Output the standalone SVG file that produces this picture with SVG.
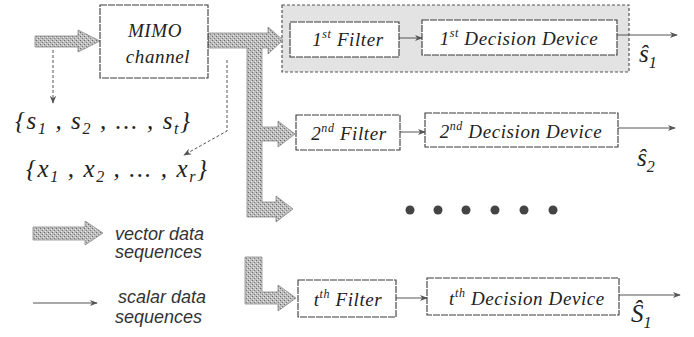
<svg xmlns="http://www.w3.org/2000/svg" width="694" height="337" viewBox="0 0 694 337">
<defs>
<style>
.box{fill:#fff;stroke:#3a3a3a;stroke-width:1.1;stroke-dasharray:7 1}
.grp{fill:#e3e3e3;stroke:#555;stroke-width:1.2;stroke-dasharray:3 2}
.fat{fill:url(#stip);stroke:#8a8a8a;stroke-width:0.8}
.lbl{font-family:"Liberation Serif","DejaVu Serif","Times New Roman",serif;font-style:italic;font-size:19px;fill:#222;letter-spacing:0.6px}
.math{font-family:"Liberation Serif","DejaVu Serif","Times New Roman",serif;font-style:italic;font-size:25px;fill:#222}
.leg{font-family:"Liberation Sans",Arial,sans-serif;font-style:italic;font-size:18px;fill:#333}
.sc{fill:none;stroke:#555;stroke-width:1}
.dash{fill:none;stroke:#555;stroke-width:1;stroke-dasharray:3 2}
.dot{fill:#444}
</style>
<pattern id="stip" width="4" height="4" patternUnits="userSpaceOnUse">
<rect width="4" height="4" fill="#bcbcbc"/>
<rect x="0" y="0" width="1" height="1" fill="#6a6a6a"/>
<rect x="2" y="2" width="1" height="1" fill="#7a7a7a"/>
<rect x="3" y="1" width="1" height="1" fill="#e6e6e6"/>
<rect x="1" y="3" width="1" height="1" fill="#e6e6e6"/>
</pattern>
<marker id="ah" viewBox="0 0 10 10" refX="9" refY="5" markerWidth="8" markerHeight="8" orient="auto" markerUnits="userSpaceOnUse">
<path d="M0,1 L10,5 L0,9 L3,5 Z" fill="#555"/>
</marker>
</defs>

<g id="group-box">
<rect class="grp" x="282" y="5" width="347" height="67"/>
</g>

<g id="connectors">
<path class="fat" d="M35,36 L78,36 L78,30 L100,41 L78,52 L78,47 L35,47 Z"/>
<path class="fat" d="M208,33 L268,33 L268,27 L283,40 L268,54 L268,48 L262,48 L262,127 L278,127 L278,121 L295,134 L278,147 L278,141 L262,141 L262,202 L276,202 L276,196 L293,209 L276,222 L276,217 L247,217 L247,48 L208,48 Z"/>
<path class="fat" d="M245,257 L262,257 L262,292 L278,292 L278,285 L296,298 L278,311 L278,304 L245,304 Z"/>
<path class="dash" d="M53,50 L53,103" marker-end="url(#ah)"/>
<path class="dash" d="M227,60 L227,131 L184,155" marker-end="url(#ah)"/>
<path class="sc" d="M399,38 L422,38" marker-end="url(#ah)"/>
<path class="sc" d="M617,35 L677,35" marker-end="url(#ah)"/>
<path class="sc" d="M400,132 L425,132" marker-end="url(#ah)"/>
<path class="sc" d="M618,128 L675,128" marker-end="url(#ah)"/>
<path class="sc" d="M396,298 L427,298" marker-end="url(#ah)"/>
<path class="sc" d="M619,295 L680,295" marker-end="url(#ah)"/>
</g>

<g id="mimo">
<rect class="box" x="100" y="5" width="108" height="73"/>
<text class="lbl" x="155" y="37" text-anchor="middle" font-size="21" letter-spacing="1.5">MIMO</text>
<text class="lbl" x="158" y="63" text-anchor="middle" font-size="21" letter-spacing="1.2">channel</text>
</g>

<g id="filter1">
<rect class="box" x="290" y="22" width="109" height="35"/>
<text class="lbl" x="348" y="46" text-anchor="middle">1<tspan font-size="12" dy="-8">st</tspan><tspan dy="8"> Filter</tspan></text>
</g>
<g id="decision1">
<rect class="box" x="422" y="20" width="195" height="35"/>
<text class="lbl" x="519" y="45" text-anchor="middle">1<tspan font-size="12" dy="-8">st</tspan><tspan dy="8">  Decision Device</tspan></text>
</g>
<g id="out1">
<text class="math" x="639" y="62">ŝ<tspan font-size="16" dy="6">1</tspan></text>
</g>

<g id="filter2">
<rect class="box" x="296" y="115" width="104" height="35"/>
<text class="lbl" x="349" y="140" text-anchor="middle">2<tspan font-size="12" dy="-8">nd</tspan><tspan dy="8"> Filter</tspan></text>
</g>
<g id="decision2">
<rect class="box" x="425" y="113" width="193" height="34"/>
<text class="lbl" x="521" y="138" text-anchor="middle">2<tspan font-size="12" dy="-8">nd</tspan><tspan dy="8"> Decision Device</tspan></text>
</g>
<g id="out2">
<text class="math" x="637" y="166">ŝ<tspan font-size="16" dy="6">2</tspan></text>
</g>

<g id="dots">
<circle class="dot" cx="410" cy="210" r="4.5"/>
<circle class="dot" cx="438" cy="210" r="4.5"/>
<circle class="dot" cx="466" cy="210" r="4.5"/>
<circle class="dot" cx="495" cy="210" r="4.5"/>
<circle class="dot" cx="524" cy="210" r="4.5"/>
<circle class="dot" cx="553" cy="210" r="4.5"/>
</g>

<g id="filtert">
<rect class="box" x="298" y="280" width="98" height="37"/>
<text class="lbl" x="348" y="306" text-anchor="middle">t<tspan font-size="12" dy="-8">th</tspan><tspan dy="8"> Filter</tspan></text>
</g>
<g id="decisiont">
<rect class="box" x="427" y="278" width="192" height="37"/>
<text class="lbl" x="527" y="305" text-anchor="middle">t<tspan font-size="12" dy="-8">th</tspan><tspan dy="8"> Decision Device</tspan></text>
</g>
<g id="outt">
<text class="math" x="631" y="322">Ŝ<tspan font-size="16" dy="6">1</tspan></text>
</g>

<g id="sset">
<text class="math" x="15" y="129" letter-spacing="1.6">{s<tspan font-size="16" dy="5">1</tspan><tspan dy="-5"> , s</tspan><tspan font-size="16" dy="5">2</tspan><tspan dy="-5"> , ... , s</tspan><tspan font-size="16" dy="5">t</tspan><tspan dy="-5">}</tspan></text>
</g>
<g id="xset">
<text class="math" x="26" y="177" letter-spacing="1.6">{x<tspan font-size="16" dy="5">1</tspan><tspan dy="-5"> , x</tspan><tspan font-size="16" dy="5">2</tspan><tspan dy="-5"> , ... , x</tspan><tspan font-size="16" dy="5">r</tspan><tspan dy="-5">}</tspan></text>
</g>

<g id="legend">
<path class="fat" d="M33,227 L85,227 L85,221 L103,233 L85,245 L85,240 L33,240 Z"/>
<text class="leg" x="115" y="240">vector data</text>
<text class="leg" x="115" y="258">sequences</text>
<path class="sc" d="M33,303 L97,303" marker-end="url(#ah)"/>
<text class="leg" x="118" y="303">scalar data</text>
<text class="leg" x="115" y="323">sequences</text>
</g>
</svg>
